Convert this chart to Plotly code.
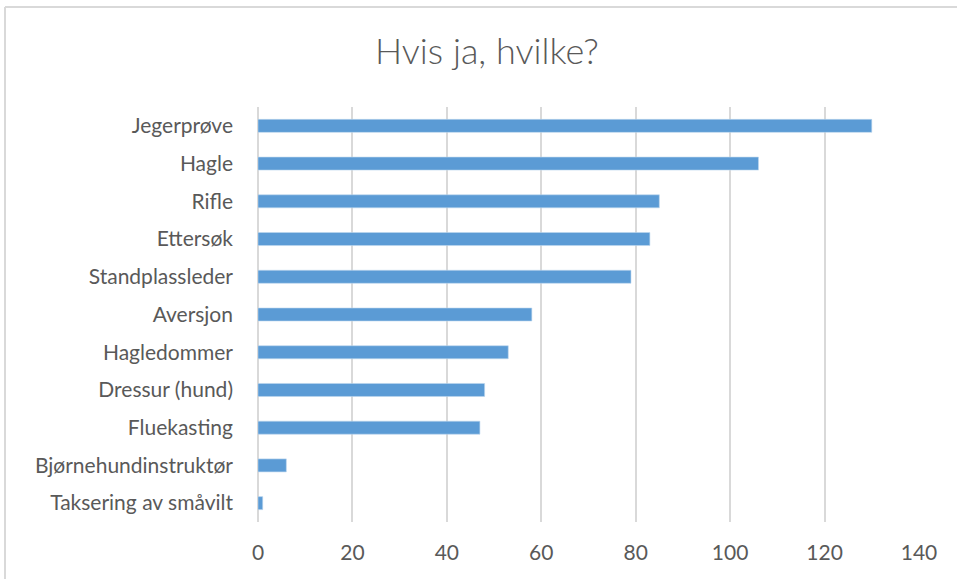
import plotly.graph_objects as go

categories = ["Jegerprøve", "Hagle", "Rifle", "Ettersøk", "Standplassleder", "Aversjon",
              "Hagledommer", "Dressur (hund)", "Fluekasting", "Bjørnehundinstruktør",
              "Taksering av småvilt"]
values = [130, 106, 85, 83, 79, 58, 53, 48, 47, 6, 1]
x_ticks = [0, 20, 40, 60, 80, 100, 120, 140]

TEXT = "#595959"
GRID = "#D9D9D9"
FONT = "Lato, Carlito, Calibri, sans-serif"

fig = go.Figure(go.Bar(
    x=values, y=categories, orientation="h",
    marker=dict(color="#5B9BD5", line=dict(color="#BDD7EE", width=0.6)),
    hoverinfo="x+y",
))

W, H = 957, 579
L, R, T, B = 258, 38, 107, 57
pw, ph = W - L - R, H - T - B

def px_x(p):
    return (p - L) / pw

def px_y(p):
    return (H - B - p) / ph

fig.update_layout(
    width=W, height=H,
    margin=dict(l=L, r=R, t=T, b=B, autoexpand=False),
    paper_bgcolor="white", plot_bgcolor="white",
    font=dict(family=FONT, color=TEXT, size=21),
    title=dict(text="Hvis ja, hvilke?", x=487 / W, xanchor="center", xref="container",
               y=1 - 51 / H, yanchor="middle", yref="container",
               font=dict(family=FONT, size=36, color=TEXT, weight=300)),
    bargap=0.655,
    showlegend=False,
    xaxis=dict(range=[0, 140], tickvals=x_ticks, showgrid=True, gridcolor=GRID, gridwidth=2,
               zeroline=True, zerolinecolor=GRID, zerolinewidth=2, showline=False,
               ticks="", ticklabelstandoff=16, fixedrange=True,
               tickfont=dict(size=21, color=TEXT)),
    yaxis=dict(categoryorder="array", categoryarray=categories, autorange="reversed",
               showgrid=False, zeroline=False, showline=False, ticks="",
               ticklabelstandoff=24, fixedrange=True,
               tickfont=dict(size=21, color=TEXT)),
    shapes=[
        dict(type="line", xref="paper", yref="paper", x0=px_x(5), x1=px_x(960),
             y0=px_y(7), y1=px_y(7), line=dict(color=GRID, width=2)),
        dict(type="line", xref="paper", yref="paper", x0=px_x(5), x1=px_x(5),
             y0=px_y(7), y1=px_y(590), line=dict(color=GRID, width=2)),
    ],
)

fig.write_html("out.html", config={"displayModeBar": False})

with open("out.html", "r", encoding="utf-8") as f:
    html = f.read()
html = html.replace("<head>", "<head><style>html,body{margin:0;padding:0;overflow:hidden;}</style>", 1)
with open("out.html", "w", encoding="utf-8") as f:
    f.write(html)
